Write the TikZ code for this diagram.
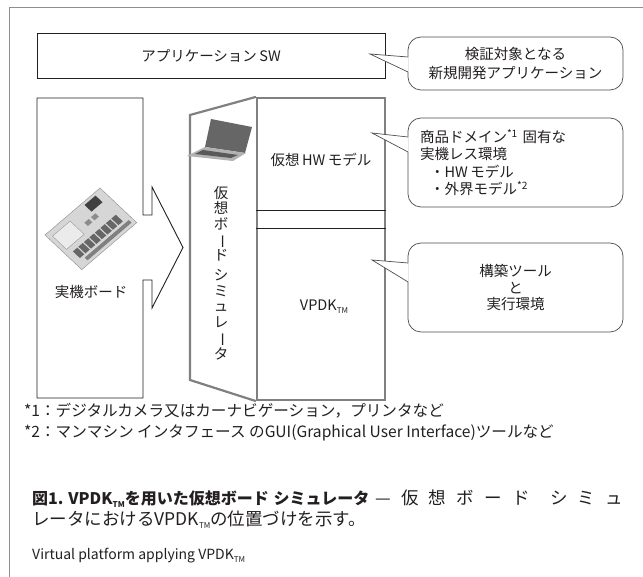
\documentclass[tikz,border=0pt]{standalone}
\usepackage{fontspec}
\setmainfont{Noto Sans CJK JP}
\newcommand\tmark{\raisebox{-.35ex}{\fontsize{8}{8}\selectfont TM}}
\newcommand\tatebar{\rotatebox[origin=c]{-90}{ー}}% long vowel mark in vertical text
\definecolor{ink}{HTML}{231F20}
\definecolor{framegray}{HTML}{8E8E8E}
\definecolor{simgray}{HTML}{808080}
\definecolor{boardgray}{HTML}{D6D6D6}
\tikzset{
  txt/.style = {inner sep=0pt, text=ink, font=\fontsize{14.5}{17}\selectfont},
  boxline/.style = {draw=ink, line width=0.9pt},
  appbox/.style = {txt, boxline, minimum width=348pt, minimum height=45pt},
  simbox/.style = {draw=simgray, line width=2.2pt, line join=miter},
  divline/.style = {draw=ink, line width=0.8pt},
  note/.style = {txt, draw=ink!80, line width=0.7pt, fill=white,
    rounded corners=13pt, minimum width=215pt},% callout box
  notetip/.style = {draw=ink!80, line width=0.7pt},
  foot/.style = {txt, anchor=west, font=\fontsize{15.6}{18}\selectfont},
}

\begin{document}
\begin{tikzpicture}[x=1pt, y=-1pt]
\useasboundingbox (0,0) rectangle (643,577);
\draw[framegray, line width=0.8pt] (9,577) -- (9,7) -- (643,7);

% application layer
\node[appbox] (appsw) at (211,55.5) {アプリケーション\,SW};

% real board with the block arrow
\draw[boxline, line join=miter] (37,98) -- (143,98) -- (143,215) -- (152,215) -- (152,187)
  -- (183,247.5) -- (152,308) -- (152,280) -- (143,280) -- (143,398) -- (37,398) -- cycle;
\begin{scope}[shift={(45,235)}, x={(55pt,47pt)}, y={(35pt,-33pt)}]
  \filldraw[fill=boardgray, draw=black!45, line width=0.4pt] (0,0) -- (1,0) -- (1,1.05) -- (0,1.05) -- cycle;
  \filldraw[fill=black!8, draw=black!40, line width=0.4pt] (0.06,0.12) -- (0.38,0.12) -- (0.38,0.52) -- (0.06,0.52) -- cycle;
  \fill[black!75] (0.68,0.06) -- (0.88,0.06) -- (0.88,0.26) -- (0.68,0.26) -- cycle;
  \foreach \u in {0.5,0.62}
    \fill[black!45] (\u,0.34) -- ++(0.08,0) -- ++(0,0.1) -- ++(-0.08,0) -- cycle;
  \foreach \u in {0.1,0.2,...,0.85}
    \fill[black!60] (\u,0.64) -- ++(0.08,0) -- ++(0,0.2) -- ++(-0.08,0) -- cycle;
  \fill[black!50] (0.15,0.9) -- (0.95,0.9) -- (0.95,0.98) -- (0.15,0.98) -- cycle;
\end{scope}
\node[txt] (boardname) at (91,292) {実機ボード};

% virtual board simulator
\node[simbox, minimum width=128pt, minimum height=302pt] (vpbody) at (321,249) {};
\draw[simbox] (vpbody.north west) -- (190,115) -- (190,380) -- (vpbody.south west);
\draw[divline] (vpbody.west |- 0,210) -- (vpbody.east |- 0,210);
\draw[divline] (vpbody.west |- 0,228) -- (vpbody.east |- 0,228);
\fill[black!60] (211,119) -- (252,127) -- (245,153) -- (205,147) -- cycle;% laptop
\fill[black!30] (205,147) -- (246,153) -- (233,161) -- (187,156) -- cycle;
\fill[black!65] (203,150) -- (238,155) -- (231,158) -- (195,154) -- cycle;
\node[txt, align=center, font=\fontsize{14.5}{15.5}\selectfont] (vpname) at (221,273)
  {仮\\想\\ボ\\\tatebar\\ド\\[5pt]シ\\ミ\\ュ\\レ\\\tatebar\\タ};
\node[txt] (hwmodel) at (321,160) {仮想\,HW\,モデル};
\node[txt] (vpdk) at (324,307) {VPDK\tmark};

% callouts
\node[note, align=center, minimum height=53pt, font=\fontsize{14.5}{20}\selectfont] (appnote) at (515.5,63.5)
  {検証対象となる\\新規開発アプリケーション};
\node[note, align=left, text width=191pt, minimum height=89pt, font=\fontsize{14.5}{17.5}\selectfont] (hwnote) at (515.5,162.5)
  {商品ドメイン\textsuperscript{*1} 固有な\\実機レス環境\\\hspace{0.7em}・HW\,モデル\\\hspace{0.7em}・外界モデル\textsuperscript{*2}};
\node[note, align=center, minimum height=89pt, font=\fontsize{14.5}{16.5}\selectfont] (toolnote) at (515.5,287.5)
  {構築ツール\\と\\実行環境};
\foreach \n/\tip/\up/\dn in {appnote/{370,54}/6.5/-8.5, hwnote/{372,133}/25.5/10.5, toolnote/{372,260}/24.5/5.5} {
  \coordinate (\n tip) at (\tip);
  \fill[white] ([xshift=1pt,yshift=\up pt]\n.west) -- (\n tip) -- ([xshift=1pt,yshift=\dn pt]\n.west) -- cycle;
  \draw[notetip] ([xshift=0.4pt,yshift=\up pt]\n.west) -- (\n tip) -- ([xshift=0.4pt,yshift=\dn pt]\n.west);
}

% footnotes and caption
\node[foot] (fnone) at (24,411) {*1：デジタルカメラ又はカーナビゲーション，プリンタなど};
\node[foot] (fntwo) at (24,433) {*2：マンマシン インタフェース のGUI(Graphical User Interface)ツールなど};
\node[txt, anchor=west] (figcap) at (32,499)
  {\hbox to 591pt{{\fontsize{16}{19}\selectfont\bfseries 図1.\hskip .3em VPDK\tmark を用いた仮想ボード\hskip .3em シミュレータ}\hskip 6pt%
   \fontsize{17.5}{20}\selectfont —\hfill 仮\hfill 想\hfill ボ\hfill ー\hfill ド\hfill\hfill シ\hfill ミ\hfill ュ}};
\node[txt, anchor=west, font=\fontsize{17.5}{20}\selectfont] (figcaptwo) at (32,520)
  {レータにおけるVPDK\tmark の位置づけを示す。};
\node[txt, anchor=west, font=\fontsize{14}{17}\selectfont] (figen) at (32,556)
  {Virtual platform applying VPDK\tmark};
\end{tikzpicture}
\end{document}
